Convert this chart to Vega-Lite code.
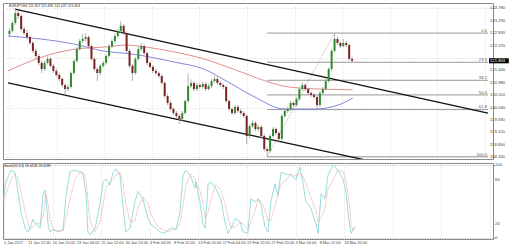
{
"$schema": "https://vega.github.io/schema/vega-lite/v6.json",
"padding": {"left": 0, "top": 2, "right": 0, "bottom": 0},
"background": "white",
"spacing": 2,
"config": {
  "view": {"stroke": "#8a8a8a", "strokeWidth": 1},
  "axis": {"labels": false, "domain": false, "tickSize": 1.5, "tickColor": "#888", "gridColor": "#d2d2d2", "gridDash": [1, 2], "gridWidth": 0.8, "title": null},
  "text": {"font": "Liberation Sans"}
},
"datasets": {
  "candles": [
    {"i":0,"o":122.80,"h":123.02,"l":122.70,"c":122.92},
    {"i":1,"o":122.92,"h":123.30,"l":122.86,"c":123.22},
    {"i":2,"o":123.22,"h":123.78,"l":123.15,"c":123.59},
    {"i":3,"o":123.59,"h":123.66,"l":123.38,"c":123.48},
    {"i":4,"o":123.48,"h":123.55,"l":122.90,"c":122.99},
    {"i":5,"o":122.99,"h":123.08,"l":122.76,"c":122.84},
    {"i":6,"o":122.84,"h":122.95,"l":122.60,"c":122.69},
    {"i":7,"o":122.69,"h":122.75,"l":122.40,"c":122.47},
    {"i":8,"o":122.47,"h":122.55,"l":122.10,"c":122.17},
    {"i":9,"o":122.17,"h":122.26,"l":121.90,"c":121.98},
    {"i":10,"o":121.98,"h":122.05,"l":121.62,"c":121.72},
    {"i":11,"o":121.72,"h":121.80,"l":121.34,"c":121.49},
    {"i":12,"o":121.49,"h":121.82,"l":121.42,"c":121.72},
    {"i":13,"o":121.72,"h":121.96,"l":121.66,"c":121.87},
    {"i":14,"o":121.87,"h":121.93,"l":121.55,"c":121.61},
    {"i":15,"o":121.61,"h":121.68,"l":121.35,"c":121.42},
    {"i":16,"o":121.42,"h":121.50,"l":121.20,"c":121.27},
    {"i":17,"o":121.27,"h":121.35,"l":121.04,"c":121.12},
    {"i":18,"o":121.12,"h":121.18,"l":120.80,"c":120.89},
    {"i":19,"o":120.89,"h":120.95,"l":120.55,"c":120.74},
    {"i":20,"o":120.74,"h":120.90,"l":120.66,"c":120.82},
    {"i":21,"o":120.82,"h":121.40,"l":120.76,"c":121.34},
    {"i":22,"o":121.34,"h":121.86,"l":121.28,"c":121.79},
    {"i":23,"o":121.79,"h":122.32,"l":121.72,"c":122.24},
    {"i":24,"o":122.24,"h":122.62,"l":122.18,"c":122.54},
    {"i":25,"o":122.54,"h":122.81,"l":122.46,"c":122.62},
    {"i":26,"o":122.62,"h":122.84,"l":122.52,"c":122.69},
    {"i":27,"o":122.69,"h":122.75,"l":122.28,"c":122.35},
    {"i":28,"o":122.35,"h":122.42,"l":121.80,"c":121.87},
    {"i":29,"o":121.87,"h":121.94,"l":121.40,"c":121.49},
    {"i":30,"o":121.49,"h":121.56,"l":121.04,"c":121.34},
    {"i":31,"o":121.34,"h":121.68,"l":121.26,"c":121.61},
    {"i":32,"o":121.61,"h":121.80,"l":121.54,"c":121.72},
    {"i":33,"o":121.72,"h":122.05,"l":121.65,"c":121.98},
    {"i":34,"o":121.98,"h":122.42,"l":121.92,"c":122.35},
    {"i":35,"o":122.35,"h":122.62,"l":122.28,"c":122.54},
    {"i":36,"o":122.54,"h":122.82,"l":122.46,"c":122.73},
    {"i":37,"o":122.73,"h":123.00,"l":122.66,"c":122.92},
    {"i":38,"o":122.92,"h":123.29,"l":122.85,"c":123.11},
    {"i":39,"o":123.11,"h":123.18,"l":122.76,"c":122.84},
    {"i":40,"o":122.84,"h":122.90,"l":122.10,"c":122.17},
    {"i":41,"o":122.17,"h":122.24,"l":121.52,"c":121.61},
    {"i":42,"o":121.61,"h":121.68,"l":121.04,"c":121.34},
    {"i":43,"o":121.34,"h":121.94,"l":121.28,"c":121.87},
    {"i":44,"o":121.87,"h":122.32,"l":121.80,"c":122.24},
    {"i":45,"o":122.24,"h":122.47,"l":122.16,"c":122.35},
    {"i":46,"o":122.35,"h":122.42,"l":122.02,"c":122.09},
    {"i":47,"o":122.09,"h":122.15,"l":121.64,"c":121.72},
    {"i":48,"o":121.72,"h":121.80,"l":121.50,"c":121.57},
    {"i":49,"o":121.57,"h":121.64,"l":121.35,"c":121.42},
    {"i":50,"o":121.42,"h":121.50,"l":121.26,"c":121.34},
    {"i":51,"o":121.34,"h":121.40,"l":121.15,"c":121.23},
    {"i":52,"o":121.23,"h":121.30,"l":120.90,"c":120.97},
    {"i":53,"o":120.97,"h":121.04,"l":120.40,"c":120.48},
    {"i":54,"o":120.48,"h":120.56,"l":120.14,"c":120.22},
    {"i":55,"o":120.22,"h":120.30,"l":119.92,"c":119.99},
    {"i":56,"o":119.99,"h":120.06,"l":119.76,"c":119.84},
    {"i":57,"o":119.84,"h":119.92,"l":119.65,"c":119.73},
    {"i":58,"o":119.73,"h":119.80,"l":119.43,"c":119.62},
    {"i":59,"o":119.62,"h":119.92,"l":119.55,"c":119.84},
    {"i":60,"o":119.84,"h":120.36,"l":119.78,"c":120.29},
    {"i":61,"o":120.29,"h":121.34,"l":120.22,"c":120.85},
    {"i":62,"o":120.85,"h":121.10,"l":120.78,"c":120.97},
    {"i":63,"o":120.97,"h":121.04,"l":120.66,"c":120.74},
    {"i":64,"o":120.74,"h":120.98,"l":120.66,"c":120.89},
    {"i":65,"o":120.89,"h":120.96,"l":120.74,"c":120.82},
    {"i":66,"o":120.82,"h":121.02,"l":120.76,"c":120.93},
    {"i":67,"o":120.93,"h":121.00,"l":120.66,"c":120.74},
    {"i":68,"o":120.74,"h":120.94,"l":120.68,"c":120.85},
    {"i":69,"o":120.85,"h":121.12,"l":120.78,"c":121.04},
    {"i":70,"o":121.04,"h":121.23,"l":120.98,"c":121.12},
    {"i":71,"o":121.12,"h":121.18,"l":120.90,"c":120.97},
    {"i":72,"o":120.97,"h":121.04,"l":120.82,"c":120.89},
    {"i":73,"o":120.89,"h":120.96,"l":120.74,"c":120.82},
    {"i":74,"o":120.82,"h":120.88,"l":120.22,"c":120.29},
    {"i":75,"o":120.29,"h":120.36,"l":119.92,"c":119.99},
    {"i":76,"o":119.99,"h":120.06,"l":119.76,"c":119.84},
    {"i":77,"o":119.84,"h":120.14,"l":119.78,"c":120.07},
    {"i":78,"o":120.07,"h":120.14,"l":119.85,"c":119.92},
    {"i":79,"o":119.92,"h":120.00,"l":119.76,"c":119.84},
    {"i":80,"o":119.84,"h":119.92,"l":119.66,"c":119.73},
    {"i":81,"o":119.73,"h":119.80,"l":118.68,"c":118.98},
    {"i":82,"o":118.98,"h":119.42,"l":118.90,"c":119.35},
    {"i":83,"o":119.35,"h":119.56,"l":119.28,"c":119.47},
    {"i":84,"o":119.47,"h":119.54,"l":119.16,"c":119.24},
    {"i":85,"o":119.24,"h":119.40,"l":119.16,"c":119.32},
    {"i":86,"o":119.32,"h":119.38,"l":118.90,"c":118.98},
    {"i":87,"o":118.98,"h":119.05,"l":118.40,"c":118.49},
    {"i":88,"o":118.49,"h":118.56,"l":118.20,"c":118.42},
    {"i":89,"o":118.42,"h":119.05,"l":118.36,"c":118.98},
    {"i":90,"o":118.98,"h":119.32,"l":118.92,"c":119.24},
    {"i":91,"o":119.24,"h":119.30,"l":119.02,"c":119.09},
    {"i":92,"o":119.09,"h":119.16,"l":118.72,"c":118.87},
    {"i":93,"o":118.87,"h":119.80,"l":118.80,"c":119.73},
    {"i":94,"o":119.73,"h":120.00,"l":119.66,"c":119.92},
    {"i":95,"o":119.92,"h":120.08,"l":119.84,"c":119.99},
    {"i":96,"o":119.99,"h":120.30,"l":119.92,"c":120.22},
    {"i":97,"o":120.22,"h":120.28,"l":120.06,"c":120.14},
    {"i":98,"o":120.14,"h":120.45,"l":120.08,"c":120.37},
    {"i":99,"o":120.37,"h":120.82,"l":120.30,"c":120.74},
    {"i":100,"o":120.74,"h":121.00,"l":120.68,"c":120.89},
    {"i":101,"o":120.89,"h":120.96,"l":120.66,"c":120.74},
    {"i":102,"o":120.74,"h":120.80,"l":120.52,"c":120.59},
    {"i":103,"o":120.59,"h":120.66,"l":120.45,"c":120.52},
    {"i":104,"o":120.52,"h":120.60,"l":120.36,"c":120.44},
    {"i":105,"o":120.44,"h":120.50,"l":120.00,"c":120.14},
    {"i":106,"o":120.14,"h":120.66,"l":120.08,"c":120.59},
    {"i":107,"o":120.59,"h":120.82,"l":120.52,"c":120.74},
    {"i":108,"o":120.74,"h":121.12,"l":120.68,"c":121.04},
    {"i":109,"o":121.04,"h":121.56,"l":120.98,"c":121.49},
    {"i":110,"o":121.49,"h":122.24,"l":121.42,"c":122.17},
    {"i":111,"o":122.17,"h":122.84,"l":122.10,"c":122.62},
    {"i":112,"o":122.62,"h":122.70,"l":122.40,"c":122.47},
    {"i":113,"o":122.47,"h":122.52,"l":122.28,"c":122.35},
    {"i":114,"o":122.35,"h":122.62,"l":122.30,"c":122.47},
    {"i":115,"o":122.47,"h":122.54,"l":122.32,"c":122.39},
    {"i":116,"o":122.39,"h":122.44,"l":121.80,"c":121.87},
    {"i":117,"o":121.87,"h":121.95,"l":121.72,"c":121.80}
  ],
  "ma": [
    {"s":"ma100","i":-0.5,"p":122.73},{"s":"ma100","i":10.5,"p":122.62},{"s":"ma100","i":21.9,"p":122.43},{"s":"ma100","i":31.9,"p":122.17},{"s":"ma100","i":42.0,"p":122.05},{"s":"ma100","i":56.4,"p":121.75},{"s":"ma100","i":66.4,"p":121.49},{"s":"ma100","i":74.1,"p":121.04},{"s":"ma100","i":83.1,"p":120.48},{"s":"ma100","i":94.1,"p":119.99},{"s":"ma100","i":104.2,"p":119.99},{"s":"ma100","i":113.2,"p":120.18},{"s":"ma100","i":117.2,"p":120.40},
    {"s":"ma200","i":-0.5,"p":121.42},{"s":"ma200","i":10.5,"p":121.92},{"s":"ma200","i":21.9,"p":122.23},{"s":"ma200","i":32.9,"p":122.32},{"s":"ma200","i":39.6,"p":122.39},{"s":"ma200","i":46.3,"p":122.32},{"s":"ma200","i":56.4,"p":122.13},{"s":"ma200","i":66.4,"p":121.87},{"s":"ma200","i":76.4,"p":121.49},{"s":"ma200","i":87.5,"p":121.04},{"s":"ma200","i":93.1,"p":120.86},{"s":"ma200","i":98.8,"p":120.78},{"s":"ma200","i":106.5,"p":120.74},{"s":"ma200","i":117.2,"p":120.71}
  ],
  "channel": [
    {"s":"upper","i":1.84,"p":123.74},{"s":"upper","i":163.4,"p":119.84},
    {"s":"lower","i":-0.5,"p":120.97},{"s":"lower","i":163.4,"p":117.09}
  ],
  "fib": [
    {"lvl":"0.0","p":122.84,"i":88,"i2":163.4},
    {"lvl":"23.6","p":121.745,"i":88,"i2":163.4},
    {"lvl":"38.2","p":121.07,"i":88,"i2":163.4},
    {"lvl":"50.0","p":120.52,"i":88,"i2":163.4},
    {"lvl":"61.8","p":119.97,"i":88,"i2":163.4},
    {"lvl":"100.0","p":118.20,"i":88,"i2":163.4}
  ],
  "fibdiag": [{"i":88,"p":118.20},{"i":111,"p":122.84}],
  "pricebox": [{"i":163.75,"i2":170.5,"p":121.80,"lo":121.705,"hi":121.895,"t":"121.803"}],
  "titles": [{"i":-0.2,"p":123.93,"t":"EURJPY,H4  121.827 121.890 121.427 121.653"}],
  "ylabels": [
    {"i":164.1,"p":123.78,"t":"123.780"},{"i":164.1,"p":123.29,"t":"123.290"},{"i":164.1,"p":122.83,"t":"122.830"},{"i":164.1,"p":122.37,"t":"122.370"},
    {"i":164.1,"p":121.44,"t":"121.440"},{"i":164.1,"p":120.98,"t":"120.980"},{"i":164.1,"p":120.51,"t":"120.510"},{"i":164.1,"p":120.04,"t":"120.040"},
    {"i":164.1,"p":119.59,"t":"119.590"},{"i":164.1,"p":119.12,"t":"119.120"},{"i":164.1,"p":118.65,"t":"118.650"},{"i":164.1,"p":118.20,"t":"118.200"}
  ],
  "stoch": [
    {"i":-0.5,"k":50,"d":45},{"i":0.5,"k":77,"d":60},{"i":2.2,"k":93,"d":80},{"i":3.5,"k":90,"d":88},{"i":4.5,"k":64,"d":82},{"i":5.5,"k":36,"d":63},{"i":6.9,"k":14,"d":38},{"i":7.9,"k":9,"d":20},{"i":8.5,"k":14,"d":12},{"i":9.5,"k":26,"d":16},
    {"i":10.5,"k":20,"d":20},{"i":11.9,"k":14,"d":20},{"i":12.9,"k":59,"d":31},{"i":13.5,"k":66,"d":46},{"i":13.9,"k":54,"d":60},{"i":14.6,"k":19,"d":46},{"i":15.2,"k":9,"d":27},{"i":16.2,"k":12,"d":13},{"i":17.9,"k":9,"d":10},{"i":19.6,"k":12,"d":11},
    {"i":20.6,"k":59,"d":27},{"i":21.9,"k":91,"d":54},{"i":23.6,"k":93,"d":81},{"i":25.3,"k":90,"d":91},{"i":26.3,"k":88,"d":90},{"i":27.3,"k":59,"d":79},{"i":27.9,"k":9,"d":52},{"i":28.6,"k":5,"d":24},{"i":30.3,"k":14,"d":9},{"i":31.9,"k":46,"d":22},
    {"i":33.0,"k":77,"d":46},{"i":33.9,"k":81,"d":68},{"i":35.3,"k":73,"d":77},{"i":36.3,"k":90,"d":81},{"i":37.3,"k":95,"d":86},{"i":38.6,"k":86,"d":90},{"i":39.6,"k":46,"d":76},{"i":40.6,"k":9,"d":47},{"i":42.0,"k":14,"d":23},{"i":43.6,"k":50,"d":24},
    {"i":44.7,"k":64,"d":43},{"i":46.3,"k":54,"d":56},{"i":48.0,"k":27,"d":48},{"i":49.0,"k":19,"d":33},{"i":50.7,"k":14,"d":20},{"i":52.0,"k":9,"d":14},{"i":53.7,"k":7,"d":10},{"i":55.4,"k":14,"d":10},{"i":56.4,"k":14,"d":12},{"i":57.4,"k":12,"d":13},
    {"i":58.7,"k":36,"d":21},{"i":59.7,"k":86,"d":45},{"i":60.7,"k":93,"d":72},{"i":62.4,"k":84,"d":88},{"i":63.7,"k":68,"d":82},{"i":64.0,"k":77,"d":76},{"i":65.4,"k":50,"d":65},{"i":66.4,"k":19,"d":49},{"i":67.1,"k":14,"d":28},{"i":68.1,"k":74,"d":36},
    {"i":69.1,"k":77,"d":55},{"i":70.7,"k":68,"d":73},{"i":72.4,"k":54,"d":66},{"i":73.7,"k":23,"d":48},{"i":74.8,"k":7,"d":28},{"i":75.8,"k":14,"d":15},{"i":77.1,"k":27,"d":16},{"i":78.8,"k":23,"d":21},{"i":79.8,"k":9,"d":20},{"i":81.4,"k":7,"d":13},
    {"i":82.4,"k":54,"d":23},{"i":83.8,"k":50,"d":37},{"i":84.8,"k":54,"d":53},{"i":85.8,"k":46,"d":50},{"i":87.1,"k":16,"d":39},{"i":88.1,"k":9,"d":24},{"i":89.1,"k":50,"d":25},{"i":90.5,"k":74,"d":44},{"i":91.5,"k":59,"d":61},{"i":92.5,"k":90,"d":74},
    {"i":94.1,"k":88,"d":79},{"i":95.8,"k":86,"d":88},{"i":97.5,"k":80,"d":85},{"i":98.8,"k":97,"d":88},{"i":99.8,"k":77,"d":85},{"i":100.8,"k":50,"d":75},{"i":102.5,"k":41,"d":56},{"i":104.2,"k":19,"d":37},{"i":104.9,"k":7,"d":22},{"i":105.9,"k":61,"d":29},
    {"i":107.2,"k":54,"d":41},{"i":108.2,"k":86,"d":67},{"i":109.9,"k":100,"d":80},{"i":111.5,"k":93,"d":93},{"i":113.2,"k":81,"d":91},{"i":114.2,"k":64,"d":79},{"i":114.9,"k":36,"d":60},{"i":115.6,"k":14,"d":38},{"i":115.9,"k":7,"d":19},{"i":116.6,"k":12,"d":11},
    {"i":117.2,"k":16.6,"d":13.4}
  ],
  "stochtitle": [{"i":-0.2,"v":102,"t":"Stoch(14,3,3) 16.6136 13.4189"}],
  "slabels": [{"i":164.1,"v":100,"t":"100"},{"i":164.1,"v":80,"t":"80"},{"i":164.1,"v":20,"t":"20"},{"i":164.1,"v":0,"t":"0"}],
  "xlabels": [
    {"i":-0.17,"v":-0.7,"t":"5 Jan 2017"},{"i":7.96,"v":-0.7,"t":"11 Jan 12:00"},{"i":16.09,"v":-0.7,"t":"16 Jan 20:00"},{"i":24.21,"v":-0.7,"t":"19 Jan 04:00"},
    {"i":32.34,"v":-0.7,"t":"25 Jan 12:00"},{"i":40.47,"v":-0.7,"t":"30 Jan 20:00"},{"i":48.60,"v":-0.7,"t":"3 Feb 04:00"},{"i":56.73,"v":-0.7,"t":"8 Feb 12:00"},
    {"i":64.85,"v":-0.7,"t":"13 Feb 20:00"},{"i":72.98,"v":-0.7,"t":"17 Feb 04:00"},{"i":81.11,"v":-0.7,"t":"22 Feb 12:00"},{"i":89.24,"v":-0.7,"t":"27 Feb 20:00"},
    {"i":97.37,"v":-0.7,"t":"3 Mar 04:00"},{"i":105.49,"v":-0.7,"t":"8 Mar 12:00"},{"i":113.62,"v":-0.7,"t":"13 Mar 20:00"}
  ]
},
"vconcat": [
  {
    "width": 490, "height": 156,
    "layer": [
      {
        "data": {"name": "fib"},
        "mark": {"type": "rule", "color": "#8c8c8c", "strokeWidth": 0.9},
        "encoding": {
          "x": {"field": "i", "type": "quantitative", "scale": {"domain": [-0.5, 163.4], "nice": false, "zero": false},
                "axis": {"ticks": false, "grid": true, "values": [-0.17,3.89,7.96,12.02,16.09,20.15,24.21,28.28,32.34,36.41,40.47,44.53,48.60,52.66,56.73,60.79,64.85,68.92,72.98,77.05,81.11,85.17,89.24,93.30,97.37,101.43,105.49,109.56,113.62,117.69,121.75,125.81,129.88,133.94,138.01,142.07,146.13,150.20,154.26,158.33,162.39]}},
          "x2": {"field": "i2"},
          "y": {"field": "p", "type": "quantitative", "scale": {"domain": [118.1175, 123.9675], "nice": false, "zero": false},
                "axis": {"orient": "right", "grid": true, "values": [123.78,123.29,122.83,122.37,121.90,121.44,120.98,120.51,120.04,119.59,119.12,118.65,118.20]}}
        }
      },
      {
        "data": {"name": "fibdiag"},
        "mark": {"type": "line", "color": "#8c8c8c", "strokeWidth": 0.8, "strokeDash": [1, 1.5]},
        "encoding": {"x": {"field": "i", "type": "quantitative"}, "y": {"field": "p", "type": "quantitative"}}
      },
      {
        "data": {"name": "ma"},
        "mark": {"type": "line", "strokeWidth": 0.9, "interpolate": "monotone"},
        "encoding": {
          "x": {"field": "i", "type": "quantitative"}, "y": {"field": "p", "type": "quantitative"},
          "color": {"field": "s", "type": "nominal", "scale": {"domain": ["ma100", "ma200"], "range": ["#7777d8", "#e08080"]}, "legend": null}
        }
      },
      {
        "data": {"name": "channel"},
        "mark": {"type": "line", "color": "#111", "strokeWidth": 1.3, "clip": true},
        "encoding": {"x": {"field": "i", "type": "quantitative"}, "y": {"field": "p", "type": "quantitative"}, "detail": {"field": "s"}}
      },
      {
        "data": {"name": "candles"},
        "mark": {"type": "rule", "color": "#9a9a9a", "strokeWidth": 0.8},
        "encoding": {"x": {"field": "i", "type": "quantitative"}, "y": {"field": "l", "type": "quantitative"}, "y2": {"field": "h"}}
      },
      {
        "data": {"name": "candles"},
        "mark": {"type": "bar", "size": 2},
        "encoding": {
          "x": {"field": "i", "type": "quantitative"}, "y": {"field": "o", "type": "quantitative"}, "y2": {"field": "c"},
          "color": {"condition": {"test": "datum.c >= datum.o", "value": "#2f8a2f"}, "value": "#7a2222"}
        }
      },
      {
        "data": {"name": "fib"},
        "mark": {"type": "text", "align": "right", "baseline": "bottom", "fontSize": 4.2, "color": "#555", "dx": -1, "dy": -0.3},
        "encoding": {"x": {"field": "i2", "type": "quantitative"}, "y": {"field": "p", "type": "quantitative"}, "text": {"field": "lvl"}}
      },
      {
        "data": {"name": "ylabels"},
        "mark": {"type": "text", "align": "left", "baseline": "middle", "fontSize": 4.2, "color": "#444"},
        "encoding": {"x": {"field": "i", "type": "quantitative"}, "y": {"field": "p", "type": "quantitative"}, "text": {"field": "t"}}
      },
      {
        "data": {"name": "pricebox"},
        "mark": {"type": "rect", "color": "#000"},
        "encoding": {"x": {"field": "i", "type": "quantitative"}, "x2": {"field": "i2"}, "y": {"field": "lo", "type": "quantitative"}, "y2": {"field": "hi"}}
      },
      {
        "data": {"name": "pricebox"},
        "mark": {"type": "text", "align": "left", "baseline": "middle", "fontSize": 4.2, "color": "#fff", "dx": 1},
        "encoding": {"x": {"field": "i", "type": "quantitative"}, "y": {"field": "p", "type": "quantitative"}, "text": {"field": "t"}}
      },
      {
        "data": {"name": "titles"},
        "mark": {"type": "text", "align": "left", "baseline": "top", "fontSize": 3.4, "color": "#222"},
        "encoding": {"x": {"field": "i", "type": "quantitative"}, "y": {"field": "p", "type": "quantitative"}, "text": {"field": "t"}}
      }
    ]
  },
  {
    "width": 490, "height": 76,
    "layer": [
      {
        "data": {"name": "stoch"},
        "mark": {"type": "line", "color": "#7fd3d3", "strokeWidth": 0.8},
        "encoding": {
          "x": {"field": "i", "type": "quantitative", "scale": {"domain": [-0.5, 163.4], "nice": false, "zero": false},
                "axis": {"grid": true, "ticks": false, "values": [-0.17,3.89,7.96,12.02,16.09,20.15,24.21,28.28,32.34,36.41,40.47,44.53,48.60,52.66,56.73,60.79,64.85,68.92,72.98,77.05,81.11,85.17,89.24,93.30,97.37,101.43,105.49,109.56,113.62,117.69,121.75,125.81,129.88,133.94,138.01,142.07,146.13,150.20,154.26,158.33,162.39]}},
          "y": {"field": "k", "type": "quantitative", "scale": {"domain": [-0.7, 102.7], "nice": false, "zero": false},
                "axis": {"orient": "right", "values": [0, 20, 80, 100], "grid": true, "gridColor": "#a0a0a0", "gridDash": [1, 1.5]}}
        }
      },
      {
        "data": {"name": "stoch"},
        "mark": {"type": "line", "color": "#e58a8a", "strokeWidth": 0.8, "strokeDash": [1, 1]},
        "encoding": {"x": {"field": "i", "type": "quantitative"}, "y": {"field": "d", "type": "quantitative"}}
      },
      {
        "data": {"name": "stochtitle"},
        "mark": {"type": "text", "align": "left", "baseline": "top", "fontSize": 3.4, "color": "#222"},
        "encoding": {"x": {"field": "i", "type": "quantitative"}, "y": {"field": "v", "type": "quantitative"}, "text": {"field": "t"}}
      },
      {
        "data": {"name": "slabels"},
        "mark": {"type": "text", "align": "left", "baseline": "middle", "fontSize": 4.2, "color": "#444"},
        "encoding": {"x": {"field": "i", "type": "quantitative"}, "y": {"field": "v", "type": "quantitative"}, "text": {"field": "t"}}
      },
      {
        "data": {"name": "xlabels"},
        "mark": {"type": "text", "align": "left", "baseline": "top", "fontSize": 3.9, "color": "#444", "dy": 2},
        "encoding": {"x": {"field": "i", "type": "quantitative"}, "y": {"field": "v", "type": "quantitative"}, "text": {"field": "t"}}
      }
    ]
  }
]
}
